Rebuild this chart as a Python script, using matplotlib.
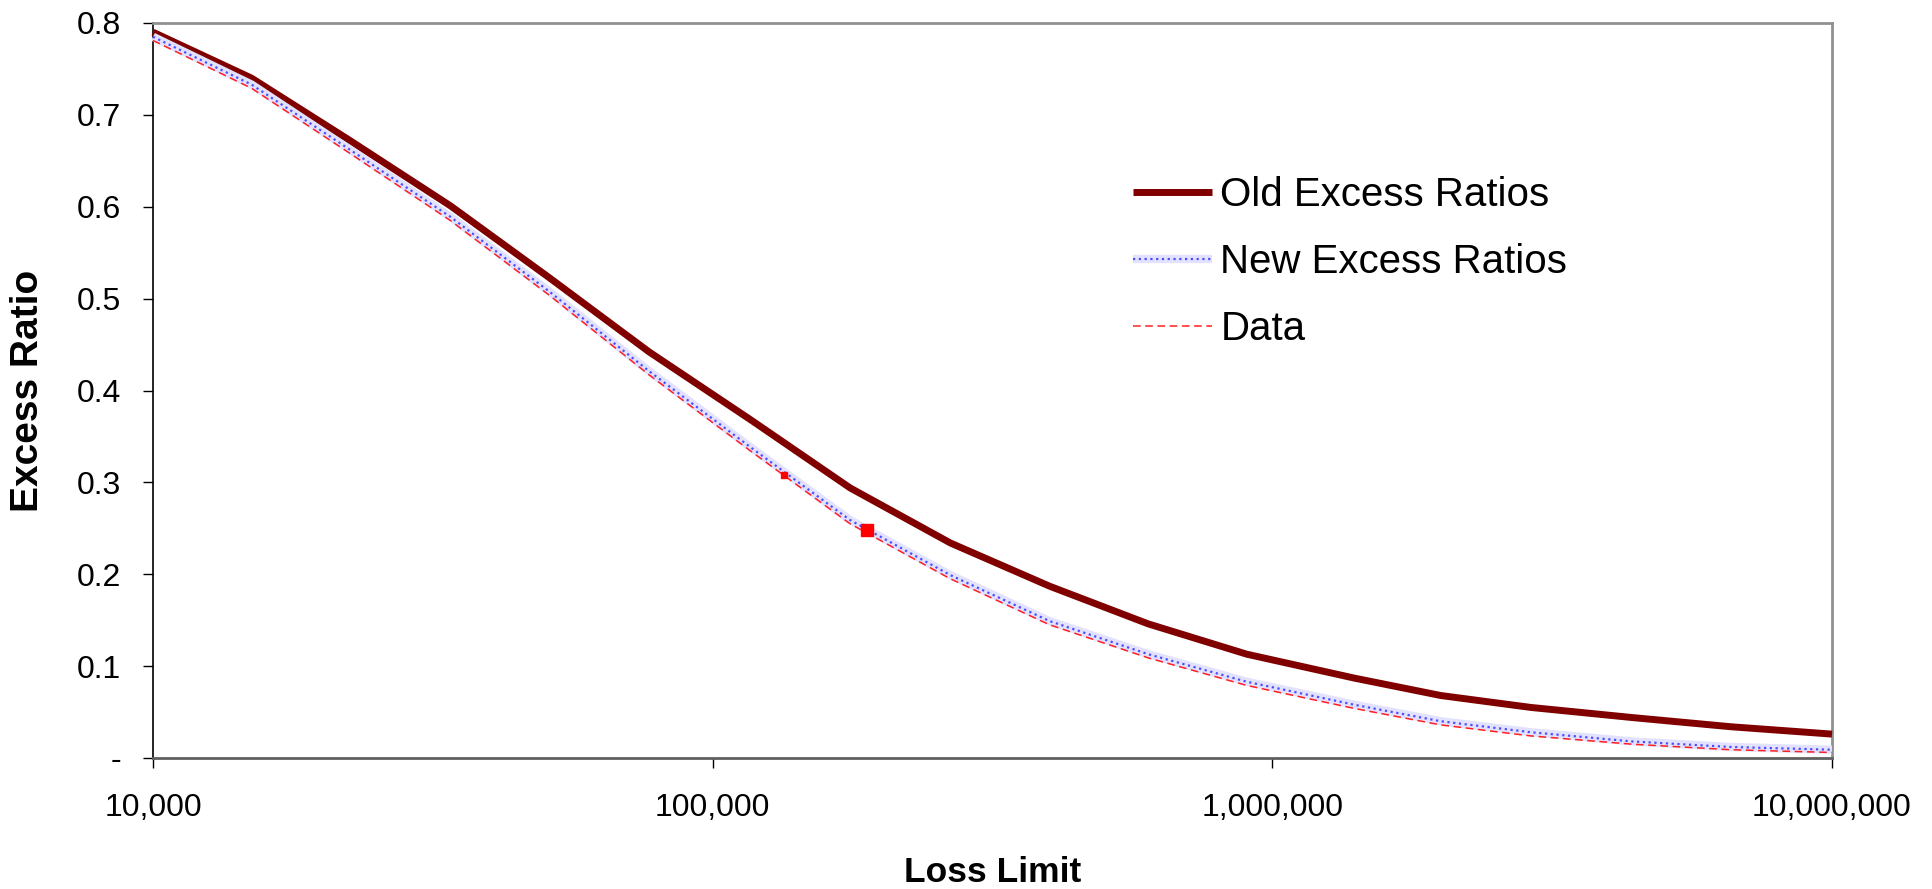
import matplotlib
matplotlib.use("Agg")
import matplotlib.pyplot as plt
from matplotlib.ticker import FuncFormatter, FixedLocator, NullLocator
from matplotlib.legend_handler import HandlerTuple

plt.rcParams['font.family'] = ['Liberation Sans', 'DejaVu Sans']

# values
loss_limit = [10000, 15000, 22500, 34000, 51000, 77000, 117000, 176000, 266000,
              400000, 600000, 900000, 1400000, 2000000, 2900000, 4400000,
              6600000, 10000000]
old_ratio = [0.790, 0.740, 0.672, 0.601, 0.523, 0.442, 0.368, 0.294, 0.234,
             0.187, 0.146, 0.113, 0.087, 0.068, 0.055, 0.044, 0.034, 0.026]
new_ratio = [0.785, 0.733, 0.662, 0.589, 0.508, 0.421, 0.338, 0.259, 0.199,
             0.149, 0.113, 0.083, 0.058, 0.040, 0.028, 0.018, 0.012, 0.009]
data_ratio = [0.781, 0.729, 0.658, 0.585, 0.504, 0.417, 0.334, 0.255, 0.195,
              0.145, 0.109, 0.079, 0.054, 0.036, 0.024, 0.015, 0.009, 0.006]
# two highlighted data points
pt_limit = [134000, 189000]
pt_ratio = [0.308, 0.248]
pt_size = [5, 8]

x_ticks = [10000, 100000, 1000000, 10000000]
y_ticks = [0, 0.1, 0.2, 0.3, 0.4, 0.5, 0.6, 0.7, 0.8]

fig = plt.figure(figsize=(19.32, 8.89), dpi=100)
ax = fig.add_axes([153 / 1932, 1 - 758 / 889, (1832 - 153) / 1932, (758 - 23) / 889])

old_line, = ax.plot(loss_limit, old_ratio, color='#800000', lw=5,
                    solid_capstyle='butt', solid_joinstyle='round',
                    clip_on=False, zorder=3)
new_band, = ax.plot(loss_limit, new_ratio, color='#e2e2ff', lw=6,
                    solid_capstyle='butt', solid_joinstyle='round',
                    clip_on=False, zorder=4)
new_dots, = ax.plot(loss_limit, new_ratio, color='#4d4dff', lw=1.6,
                    linestyle=(0, (1, 1.6)), clip_on=False, zorder=5)
data_line, = ax.plot(loss_limit, data_ratio, color='#ff2020', lw=1.1,
                     linestyle=(0, (5, 3)), clip_on=False, zorder=6)
for xv, yv, s in zip(pt_limit, pt_ratio, pt_size):
    ax.plot(xv, yv, marker='s', color='#ff0000', markersize=s, zorder=7)

ax.set_xscale('log')
ax.set_xlim(1e4, 1e7)
ax.set_ylim(0, 0.8)
ax.xaxis.set_major_locator(FixedLocator(x_ticks))
ax.xaxis.set_minor_locator(NullLocator())
ax.yaxis.set_major_locator(FixedLocator(y_ticks))
ax.xaxis.set_major_formatter(FuncFormatter(lambda v, p: '{:,.0f}'.format(v)))
ax.yaxis.set_major_formatter(FuncFormatter(lambda v, p: '-' if abs(v) < 1e-9 else '{:.1f}'.format(v)))

ax.tick_params(axis='both', direction='out', length=7, width=1, color='black',
               labelsize=23)
ax.tick_params(axis='y', pad=16)
ax.tick_params(axis='x', pad=18)

ax.spines['left'].set_color('black')
ax.spines['left'].set_linewidth(1.2)
ax.spines['bottom'].set_color('#606060')
ax.spines['bottom'].set_linewidth(2)
ax.spines['top'].set_color('#909090')
ax.spines['top'].set_linewidth(2)
ax.spines['right'].set_color('#909090')
ax.spines['right'].set_linewidth(2)

ax.set_xlabel('Loss Limit', fontsize=25.5, fontweight='bold', labelpad=24)
ax.set_ylabel('Excess Ratio', fontsize=28, fontweight='bold', labelpad=22)

fig.legend([old_line, (new_band, new_dots), data_line],
           ['Old Excess Ratios', 'New Excess Ratios', 'Data'],
           handler_map={tuple: HandlerTuple(ndivide=1)},
           loc='upper left', bbox_to_anchor=(1133 / 1932, 1 - 176 / 889),
           frameon=False, fontsize=29, borderpad=0, borderaxespad=0,
           handlelength=1.95, handletextpad=0.22, labelspacing=0.72)

fig.savefig('out.png', dpi=100)
